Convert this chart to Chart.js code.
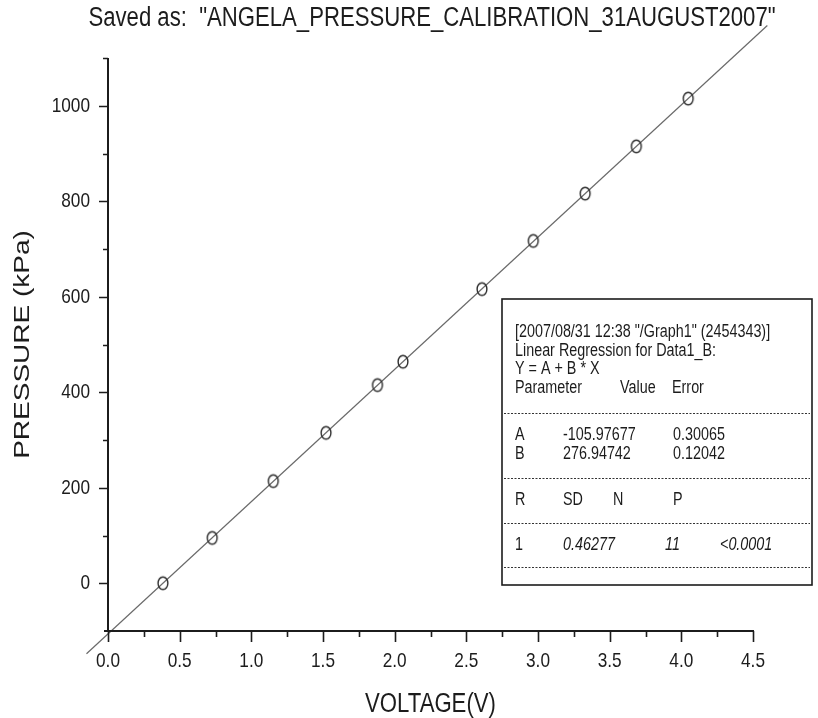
<!DOCTYPE html>
<html>
<head>
<meta charset="utf-8">
<script src="https://cdn.jsdelivr.net/npm/chart.js@4.4.0/dist/chart.umd.min.js"></script>
<style>
  html, body { margin: 0; padding: 0; background: #fff; }
  #wrap { width: 818px; height: 718px; }
</style>
</head>
<body>
<div id="wrap"><canvas id="c" width="818" height="718"></canvas></div>
<script>
// Calibration readings
const voltage  = [0.383, 0.727, 1.153, 1.521, 1.880, 2.058, 2.609, 2.967, 3.329, 3.686, 4.048];
const pressure = [0, 95, 214, 315, 415, 464, 616, 717, 816, 915, 1015];

// Linear fit Y = A + B * X
const fitA = -105.97677;
const fitB = 276.94742;
const fitSpan = [-0.15, 4.6];

// Axis labels
const xTickValues = [0, 0.5, 1.0, 1.5, 2.0, 2.5, 3.0, 3.5, 4.0, 4.5];
const yTickValues = [0, 200, 400, 600, 800, 1000];
const xMinorStep = 0.25;
const yMinorStep = 100;

const chartTitle = 'Saved as:  "ANGELA_PRESSURE_CALIBRATION_31AUGUST2007"';
const xTitle = 'VOLTAGE(V)';
const yTitle = 'PRESSURE (kPa)';

// Regression report
const reportHead = [
  '[2007/08/31 12:38 "/Graph1" (2454343)]',
  'Linear Regression for Data1_B:',
  'Y = A + B * X'
];
const paramHeader = ['Parameter', 'Value', 'Error'];
const paramRows = [
  ['A', '-105.97677', '0.30065'],
  ['B', '276.94742', '0.12042']
];
const statHeader = ['R', 'SD', 'N', 'P'];
const statRow = ['1', '0.46277', '11', '<0.0001'];

const FONT = '"Liberation Sans", Arial, Helvetica, sans-serif';
const INK = '#1c1c1c';
const NARROW = 0.82;   // condensed lettering

const fitLine = fitSpan.map(x => ({ x: x, y: fitA + fitB * x }));
const points = voltage.map((v, i) => ({ x: v, y: pressure[i] }));

// open oval marker
function makeMarker() {
  const c = document.createElement('canvas');
  c.width = 14; c.height = 17;
  const g = c.getContext('2d');
  g.strokeStyle = '#2e2e2e';
  g.lineWidth = 1.4;
  g.beginPath();
  g.ellipse(7, 8.5, 4.9, 6.3, 0, 0, Math.PI * 2);
  g.stroke();
  return c;
}

// condensed text helper
function say(ctx, s, x, y, size, opts) {
  opts = opts || {};
  ctx.save();
  ctx.translate(x, y);
  if (opts.vertical) {
    ctx.rotate(-Math.PI / 2);
    ctx.scale(1, NARROW);
  } else {
    ctx.scale(NARROW, 1);
  }
  ctx.font = (opts.italic ? 'italic ' : '') + size + 'px ' + FONT;
  ctx.textAlign = opts.align || 'left';
  ctx.textBaseline = 'middle';
  ctx.fillStyle = INK;
  ctx.fillText(s, 0, 0);
  ctx.restore();
}

// Axis lines, tick marks, labels, title and the regression report
const decorations = {
  id: 'decorations',
  afterDraw(chart) {
    const ctx = chart.ctx;
    const xs = chart.scales.x, ys = chart.scales.y;
    const x0 = xs.getPixelForValue(xs.min);
    const x1 = xs.getPixelForValue(xs.max);
    const yb = ys.getPixelForValue(ys.min);
    const yt = ys.getPixelForValue(ys.max);
    ctx.save();
    ctx.strokeStyle = INK;
    ctx.lineCap = 'butt';

    // axis lines
    ctx.lineWidth = 2;
    ctx.beginPath();
    ctx.moveTo(x0, yt); ctx.lineTo(x0, yb + 1);
    ctx.moveTo(x0 - 4, yb); ctx.lineTo(x1 + 1, yb);
    ctx.stroke();

    // tick marks
    ctx.lineWidth = 1.6;
    ctx.beginPath();
    for (let v = ys.min + yMinorStep; v <= ys.max + 1e-6; v += yMinorStep) {
      const p = Math.round(ys.getPixelForValue(v)) + 0.5;
      const len = yTickValues.includes(Math.round(v)) ? 9 : 5;
      ctx.moveTo(x0, p); ctx.lineTo(x0 - len, p);
    }
    for (let v = xs.min; v <= xs.max + 1e-6; v += xMinorStep) {
      const p = Math.round(xs.getPixelForValue(v)) + 0.5;
      const major = Math.abs(v * 2 - Math.round(v * 2)) < 1e-6;
      ctx.moveTo(p, yb); ctx.lineTo(p, yb + (major ? 11 : 6));
    }
    ctx.stroke();
    ctx.restore();

    // tick labels
    ys.ticks.forEach(t => {
      say(ctx, String(t.value), x0 - 18, ys.getPixelForValue(t.value), 21, { align: 'right' });
    });
    xs.ticks.forEach(t => {
      say(ctx, Number(t.value).toFixed(1), xs.getPixelForValue(t.value), yb + 30, 21, { align: 'center' });
    });

    // axis titles, centred on their axes
    say(ctx, xTitle, (x0 + x1) / 2, 705, 27, { align: 'center' });
    say(ctx, yTitle, 23, (yt + yb) / 2, 28, { align: 'center', vertical: true });

    // chart title
    say(ctx, chartTitle, 432, 19, 27, { align: 'center' });

    // regression report box
    const bx = 502, by = 299, bw = 310, bh = 286;
    ctx.save();
    ctx.fillStyle = '#fff';
    ctx.fillRect(bx, by, bw, bh);
    ctx.strokeStyle = INK;
    ctx.lineWidth = 1.6;
    ctx.strokeRect(bx, by, bw, bh);
    ctx.restore();

    const fs = 17.5, tx = 515;
    say(ctx, reportHead[0], tx, 332, fs);
    say(ctx, reportHead[1], tx, 351, fs);
    say(ctx, reportHead[2], tx, 369, fs);
    say(ctx, paramHeader[0], tx, 388, fs);
    say(ctx, paramHeader[1], 620, 388, fs);
    say(ctx, paramHeader[2], 672, 388, fs);

    paramRows.forEach((r, i) => {
      const y = 435 + i * 19;
      say(ctx, r[0], tx, y, fs);
      say(ctx, r[1], 563, y, fs);
      say(ctx, r[2], 673, y, fs);
    });

    say(ctx, statHeader[0], tx, 500, fs);
    say(ctx, statHeader[1], 563, 500, fs);
    say(ctx, statHeader[2], 613, 500, fs);
    say(ctx, statHeader[3], 673, 500, fs);

    say(ctx, statRow[0], tx, 545, fs);
    say(ctx, statRow[1], 563, 545, fs, { italic: true });
    say(ctx, statRow[2], 665, 545, fs, { italic: true });
    say(ctx, statRow[3], 720, 545, fs, { italic: true });

    // dotted separators
    ctx.save();
    ctx.strokeStyle = '#333';
    ctx.lineWidth = 1;
    ctx.setLineDash([2, 1.5]);
    [413, 478, 523, 567].forEach(y => {
      ctx.beginPath();
      ctx.moveTo(bx + 2, y + 0.5);
      ctx.lineTo(bx + bw - 2, y + 0.5);
      ctx.stroke();
    });
    ctx.restore();
  }
};

new Chart(document.getElementById('c'), {
  type: 'scatter',
  data: {
    datasets: [
      {
        data: fitLine,
        showLine: true,
        borderColor: '#6a6a6a',
        borderWidth: 1.2,
        pointRadius: 0,
        clip: false,
        order: 2
      },
      {
        data: points,
        showLine: false,
        pointStyle: makeMarker(),
        pointRadius: 6,
        order: 1
      }
    ]
  },
  options: {
    responsive: false,
    animation: false,
    devicePixelRatio: 1,
    layout: { padding: { top: 58, right: 65, left: 0, bottom: 0 } },
    plugins: {
      legend: { display: false },
      tooltip: { enabled: false },
      title: { display: false }
    },
    scales: {
      x: {
        type: 'linear',
        min: 0,
        max: 4.5,
        afterBuildTicks: s => { s.ticks = xTickValues.map(v => ({ value: v })); },
        afterFit: s => { s.height = 87; },
        border: { display: false },
        grid: { display: false },
        ticks: { display: false }
      },
      y: {
        type: 'linear',
        min: -100,
        max: 1100,
        afterBuildTicks: s => { s.ticks = yTickValues.map(v => ({ value: v })); },
        afterFit: s => { s.width = 108; },
        border: { display: false },
        grid: { display: false },
        ticks: { display: false }
      }
    }
  },
  plugins: [decorations]
});
</script>
</body>
</html>
